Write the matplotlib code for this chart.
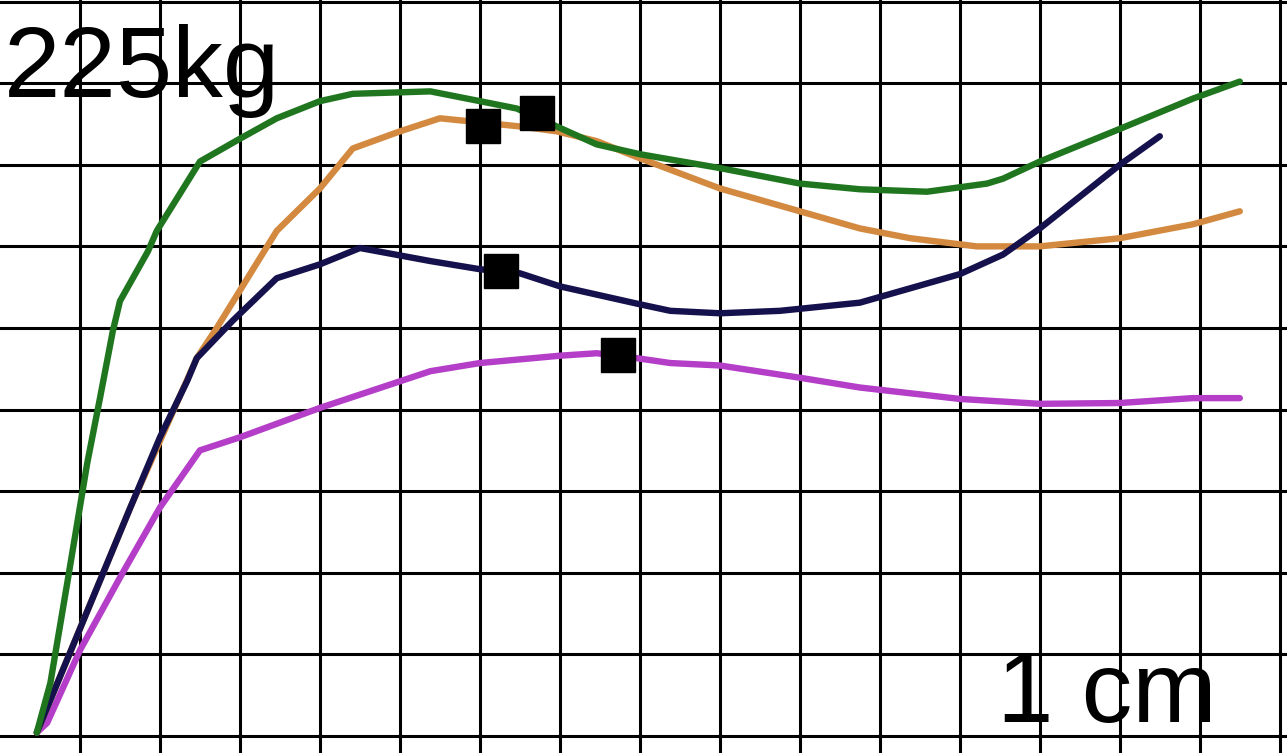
import matplotlib
matplotlib.use("Agg")
from matplotlib import pyplot as plt

plt.rcParams['font.family'] = ['Liberation Sans', 'DejaVu Sans']

# curves in grid units (1 square = 1 cm)
green_x = [0.46, 0.63, 0.84, 1.09, 1.25, 1.41, 1.50, 1.85, 1.96, 2.50, 3.00, 3.46, 4.00, 4.41,
           5.38, 6.00, 6.46, 6.96, 7.46, 8.00, 9.00, 10.00, 10.75, 11.59, 12.34, 12.54, 13.00,
           14.00, 14.91, 15.50]
green_y = [0.04, 0.65, 1.87, 3.34, 4.14, 4.96, 5.33, 5.94, 6.19, 7.04, 7.32, 7.57, 7.78, 7.87,
           7.90, 7.78, 7.69, 7.47, 7.25, 7.13, 6.96, 6.77, 6.70, 6.67, 6.77, 6.83, 7.04,
           7.44, 7.81, 8.02]

orange_x = [0.46, 1.63, 2.46, 2.71, 3.46, 4.00, 4.41, 5.00, 5.50, 6.50, 6.96, 7.46, 8.00, 9.00,
            10.00, 10.75, 11.38, 12.21, 13.00, 14.00, 14.91, 15.50]
orange_y = [0.04, 2.80, 4.63, 5.00, 6.19, 6.71, 7.20, 7.41, 7.57, 7.47, 7.41, 7.29, 7.08, 6.71,
            6.43, 6.22, 6.10, 6.00, 6.00, 6.10, 6.27, 6.43]

navy_x = [0.46, 1.63, 2.00, 2.34, 2.46, 2.91, 3.46, 4.00, 4.50, 5.38, 6.00, 6.50, 7.00, 8.00,
          8.38, 9.00, 9.75, 10.75, 12.00, 12.54, 13.00, 14.00, 14.50]
navy_y = [0.04, 2.80, 3.66, 4.35, 4.63, 5.09, 5.61, 5.78, 5.98, 5.82, 5.72, 5.67, 5.51, 5.29,
          5.21, 5.18, 5.21, 5.31, 5.66, 5.90, 6.22, 7.00, 7.35]

magenta_x = [0.46, 0.59, 1.00, 1.50, 2.00, 2.50, 3.00, 4.00, 5.38, 6.00, 7.00, 7.46, 7.96, 8.38,
             9.00, 10.00, 10.75, 12.00, 13.00, 14.00, 14.91, 15.50]
magenta_y = [0.04, 0.16, 1.05, 1.94, 2.80, 3.50, 3.66, 4.02, 4.47, 4.57, 4.66, 4.69, 4.63, 4.57,
             4.54, 4.39, 4.27, 4.13, 4.07, 4.08, 4.14, 4.14]

# black square markers
square_x = [6.04, 6.71, 6.26, 7.73]
square_y = [7.47, 7.64, 5.70, 4.67]

fig = plt.figure(figsize=(12.87, 7.53), dpi=100)
ax = fig.add_axes([0, 0, 1, 1])
ax.set_xlim(0, 16.09)
ax.set_ylim(-0.21, 9.02)

ax.set_xticks(range(1, 17))
ax.set_yticks(range(0, 10))
ax.grid(True, color='black', linewidth=2.2)
ax.tick_params(length=0, labelbottom=False, labelleft=False)
for s in ax.spines.values():
    s.set_visible(False)

lw = 4.6
ax.plot(magenta_x, magenta_y, color='#b43ec8', lw=lw, solid_capstyle='round', zorder=3)
ax.plot(orange_x, orange_y, color='#d38a40', lw=lw, solid_capstyle='round', zorder=3)
ax.plot(navy_x, navy_y, color='#14114c', lw=lw, solid_capstyle='round', zorder=4)
ax.plot(green_x, green_y, color='#1f761f', lw=lw, solid_capstyle='round', zorder=4)
ax.plot(square_x, square_y, 's', color='black', ms=25, zorder=5)

ax.text(0.003, 0.871, "225kg", transform=ax.transAxes, fontsize=73,
        ha='left', va='baseline', zorder=6)
ax.text(0.775, 0.041, "1 cm", transform=ax.transAxes, fontsize=73,
        ha='left', va='baseline', zorder=6)

fig.savefig("out.png", dpi=100)
